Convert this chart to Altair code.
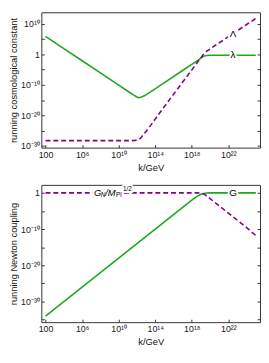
import altair as alt
import pandas as pd

# ---- data (log10 values) ----
k_top = [2, 4, 6, 8, 10, 11, 11.6, 12.0, 12.2, 12.4, 12.8, 13.5, 15, 17, 18, 18.6, 19.0, 19.3, 19.6, 20, 21, 22, 23, 24, 25]
lam_small = [5.9, 1.9, -2.1, -6.1, -10.1, -12.1, -13.3, -14.0, -14.2, -14.1, -13.6, -12.3, -9.3, -5.3, -3.3, -2.1, -1.2, -0.6, -0.35, -0.3, -0.3, -0.3, -0.3, -0.3, -0.3]
Lam_big = [-28.3, -28.3, -28.3, -28.3, -28.3, -28.3, -28.3, -28.2, -28.0, -27.5, -26.0, -23.3, -17.1, -9.1, -5.1, -2.7, -1.1, 0.1, 1.0, 1.8, 3.8, 5.8, 7.8, 9.8, 11.8]

k_bot = [2, 6, 10, 14, 17, 18, 18.6, 19.0, 19.3, 19.6, 20, 21, 22, 23, 24, 25]
G_small = [-34, -26, -18, -10, -4, -2, -0.9, -0.4, -0.15, -0.05, 0, 0, 0, 0, 0, 0]
GN_big = [0, 0, 0, 0, 0, 0, 0, -0.05, -0.3, -0.8, -1.6, -3.6, -5.6, -7.6, -9.6, -11.8]

x_tick_values = [2, 4, 6, 8, 10, 12, 14, 16, 18, 20, 22, 24]
x_tick_labels = {2: "100", 6: "10⁶", 10: "10¹⁰", 14: "10¹⁴", 18: "10¹⁸", 22: "10²²"}
y_top_ticks = [-30, -25, -20, -15, -10, -5, 0, 5, 10]
y_top_labels = {-30: "10⁻³⁰", -20: "10⁻²⁰", -10: "10⁻¹⁰", 0: "1", 10: "10¹⁰"}
y_bot_ticks = [-35, -30, -25, -20, -15, -10, -5, 0]
y_bot_labels = {-30: "10⁻³⁰", -20: "10⁻²⁰", -10: "10⁻¹⁰", 0: "1"}

x_domain = [1.54, 25.46]
y_top_domain = [-30.6, 13.8]
y_bot_domain = [-35.7, 2.2]

top_label_text = ["Λ", "λ"]
top_label_x = [22.5, 22.5]
top_label_y = [6.6, -0.3]
bot_label_text = ["G"]
bot_label_x = [22.5]
bot_label_y = [0]
gn_label_x = 7.3
gn_label_y = 0

GREEN = "#1fa81f"
PURPLE = "#85008a"
FONT = "Liberation Sans"


def label_expr(mapping):
    parts = [f"datum.value == {k} ? '{v}'" for k, v in mapping.items()]
    return " : ".join(parts) + " : ''"


def x_enc():
    return alt.X(
        "k:Q",
        scale=alt.Scale(domain=x_domain, nice=False, zero=False),
        axis=alt.Axis(values=x_tick_values, labelExpr=label_expr(x_tick_labels), title="k/GeV",
                      offset=-3, tickSize=3, domain=False, grid=False, labelPadding=3,
                      titlePadding=3, labelFlush=False),
    )


def y_scale(dom):
    return alt.Scale(domain=dom, nice=False, zero=False)


def left_axis(vals, labels, title):
    return alt.Axis(values=vals, labelExpr=label_expr(labels), title=title, orient="left",
                    offset=-3, tickSize=3, domain=False, grid=False, labelPadding=2, titlePadding=2)


def right_axis(vals):
    return alt.Axis(values=vals, labels=False, title=None, orient="right", offset=-3, tickSize=3,
                    domain=False, grid=False)


def text_mark(df, x, y, size, italic, dx, dy, align, halo):
    style = "italic" if italic else "normal"
    if halo:
        mk = alt.Chart(df).mark_text(fontSize=size, font=FONT, fontStyle=style, color="white",
                                     stroke="white", strokeWidth=4, strokeJoin="round",
                                     dx=dx, dy=dy, align=align)
    else:
        mk = alt.Chart(df).mark_text(fontSize=size, font=FONT, fontStyle=style, color="black",
                                     dx=dx, dy=dy, align=align)
    return mk.encode(x=alt.X(x, type="quantitative"), y=alt.Y(y, type="quantitative", axis=None),
                     text="t:N")


def text_layers(pieces):
    # pieces: list of (df, size, italic, dx, dy, align); halos first, then the text
    halos = [text_mark(d, "lx", "ly", s, it, dx, dy, al, True) for d, s, it, dx, dy, al in pieces]
    texts = [text_mark(d, "lx", "ly", s, it, dx, dy, al, False) for d, s, it, dx, dy, al in pieces]
    return halos + texts


# ---- top panel ----
df_top = pd.DataFrame({"k": k_top, "lam": lam_small, "Lam": Lam_big})
green_top = alt.Chart(df_top).mark_line(color=GREEN, strokeWidth=1.6, clip=True).encode(
    x=x_enc(), y=alt.Y("lam:Q", scale=y_scale(y_top_domain),
                       axis=left_axis(y_top_ticks, y_top_labels, "running cosmological constant")))
purple_top = alt.Chart(df_top).mark_line(color=PURPLE, strokeWidth=1.6, strokeDash=[5, 3], clip=True).encode(
    x=x_enc(), y=alt.Y("Lam:Q", scale=y_scale(y_top_domain), axis=right_axis(y_top_ticks)))
df_tl = pd.DataFrame({"t": top_label_text, "lx": top_label_x, "ly": top_label_y})
top = alt.layer(green_top, purple_top, *text_layers([(df_tl, 10, False, 0, 0, "center")])).resolve_axis(
    y="independent").properties(width=223, height=138)

# ---- bottom panel ----
df_bot = pd.DataFrame({"k": k_bot, "G": G_small, "GN": GN_big})
green_bot = alt.Chart(df_bot).mark_line(color=GREEN, strokeWidth=1.6, clip=True).encode(
    x=x_enc(), y=alt.Y("G:Q", scale=y_scale(y_bot_domain),
                       axis=left_axis(y_bot_ticks, y_bot_labels, "running Newton coupling")))
purple_bot = alt.Chart(df_bot).mark_line(color=PURPLE, strokeWidth=1.6, strokeDash=[5, 3], clip=True).encode(
    x=x_enc(), y=alt.Y("GN:Q", scale=y_scale(y_bot_domain), axis=right_axis(y_bot_ticks)))
df_bl = pd.DataFrame({"t": bot_label_text, "lx": bot_label_x, "ly": bot_label_y})

gn_pieces = [
    ("G", 9.5, True, 0, 0),
    ("N", 6.5, True, 7, 2.5),
    ("/M", 9.5, True, 11.5, 0),
    ("Pl", 6.5, False, 22.5, 2.5),
    ("1/2", 6.5, False, 29.5, -4),
]
pieces_bot = [(df_bl, 10, False, 0, 0, "center")]
for t, s, it, dx, dy in gn_pieces:
    d = pd.DataFrame({"t": [t], "lx": [gn_label_x], "ly": [gn_label_y]})
    pieces_bot.append((d, s, it, dx, dy, "left"))

bottom = alt.layer(green_bot, purple_bot, *text_layers(pieces_bot)).resolve_axis(
    y="independent").properties(width=223, height=140)

chart = alt.vconcat(top, bottom, spacing=12).properties(padding=0).configure_view(
    stroke="#333333", strokeWidth=1
).configure_axis(
    labelFont=FONT, labelFontSize=9, labelColor="#222222", titleFont=FONT, titleFontSize=9.5,
    titleFontWeight="normal", titleColor="#111111", tickColor="#333333"
)

chart.save("out.html", embed_options={"renderer": "svg", "actions": False})
